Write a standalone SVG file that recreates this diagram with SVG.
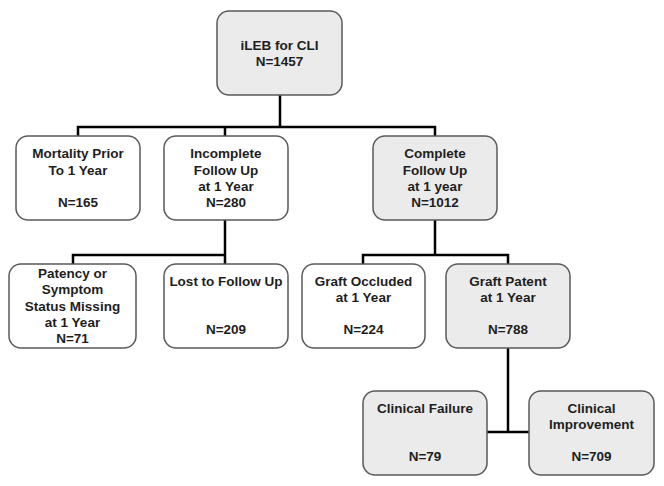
<svg xmlns="http://www.w3.org/2000/svg" width="664" height="486" viewBox="0 0 664 486">
<style>
.box{stroke:#5a5a5a;stroke-width:1.5;}
.w{fill:#ffffff;}
.g{fill:#ebebeb;}
text{font-family:"Liberation Sans",Arial,sans-serif;font-weight:bold;font-size:13.5px;fill:#1e1e1e;text-anchor:middle;}
.conn{fill:none;stroke:#000000;stroke-width:2.5;}
</style>
<rect width="664" height="486" fill="#ffffff"/>
<g id="connectors" class="conn">
<path d="M280 95 V127 M78 136 V127 H435 V136 M225 127 V136"/>
<path d="M225 220 V264 M73 264 V255 H225"/>
<path d="M435 220 V255 M363 264 V255 H508 V264"/>
<path d="M508 348 V432 M487 432 H529"/>
</g>
<g id="n-root"><rect class="box g" x="217" y="11" width="125" height="84" rx="12"/><text x="279.5" y="50">iLEB for CLI</text><text x="279.5" y="66">N=1457</text></g>
<g id="n-mortality"><rect class="box w" x="16" y="136" width="124" height="84" rx="12"/><text x="78" y="158">Mortality Prior</text><text x="78" y="175">To 1 Year</text><text x="78" y="207">N=165</text></g>
<g id="n-incomplete"><rect class="box w" x="164" y="136" width="124" height="84" rx="12"/><text x="226" y="158">Incomplete</text><text x="226" y="175">Follow Up</text><text x="226" y="191">at 1 Year</text><text x="226" y="207">N=280</text></g>
<g id="n-complete"><rect class="box g" x="373" y="136" width="124" height="84" rx="12"/><text x="435" y="158">Complete</text><text x="435" y="175">Follow Up</text><text x="435" y="191">at 1 year</text><text x="435" y="207">N=1012</text></g>
<g id="n-patency"><rect class="box w" x="9" y="264" width="127" height="84" rx="12"/><text x="72.5" y="278">Patency or</text><text x="72.5" y="294">Symptom</text><text x="72.5" y="311">Status Missing</text><text x="72.5" y="327">at 1 Year</text><text x="72.5" y="343">N=71</text></g>
<g id="n-lost"><rect class="box w" x="164" y="264" width="124" height="84" rx="12"/><text x="226" y="286">Lost to Follow Up</text><text x="226" y="334">N=209</text></g>
<g id="n-occluded"><rect class="box w" x="302" y="264" width="123" height="84" rx="12"/><text x="363.5" y="286">Graft Occluded</text><text x="363.5" y="302">at 1 Year</text><text x="363.5" y="334">N=224</text></g>
<g id="n-patent"><rect class="box g" x="446" y="264" width="124" height="84" rx="12"/><text x="508" y="286">Graft Patent</text><text x="508" y="302">at 1 Year</text><text x="508" y="334">N=788</text></g>
<g id="n-failure"><rect class="box g" x="363" y="391" width="124" height="84" rx="12"/><text x="425" y="413">Clinical Failure</text><text x="425" y="461">N=79</text></g>
<g id="n-improvement"><rect class="box g" x="529" y="391" width="125" height="84" rx="12"/><text x="591.5" y="413">Clinical</text><text x="591.5" y="429">Improvement</text><text x="591.5" y="461">N=709</text></g>
</svg>
